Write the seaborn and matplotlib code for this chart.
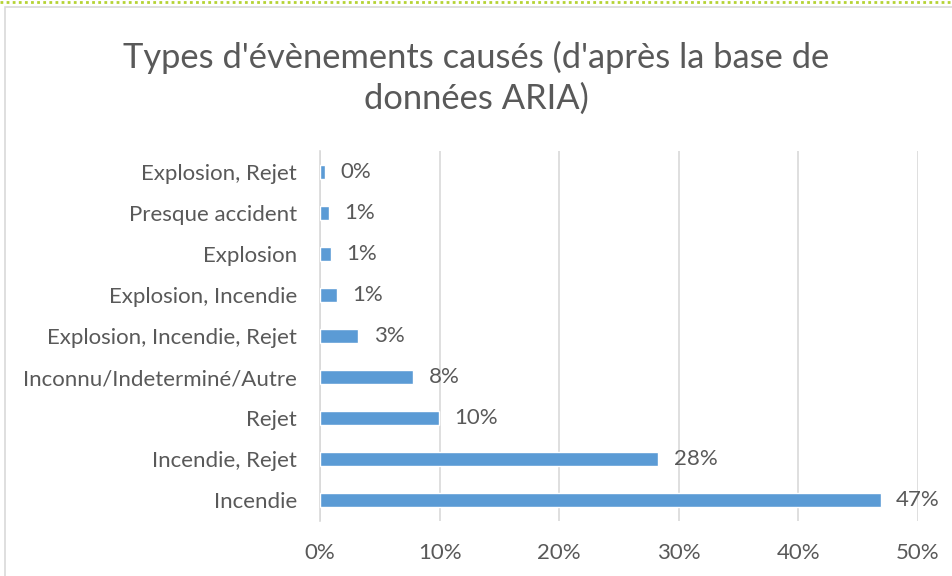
import matplotlib
matplotlib.use("Agg")
import matplotlib.pyplot as plt
import seaborn as sns
import pandas as pd
from matplotlib.patches import Rectangle
from matplotlib.lines import Line2D
from matplotlib.ticker import PercentFormatter

categories = [
    "Explosion, Rejet",
    "Presque accident",
    "Explosion",
    "Explosion, Incendie",
    "Explosion, Incendie, Rejet",
    "Inconnu/Indeterminé/Autre",
    "Rejet",
    "Incendie, Rejet",
    "Incendie",
]
shares = [0.004, 0.0075, 0.009, 0.014, 0.032, 0.078, 0.0995, 0.283, 0.469]
x_ticks = [0.0, 0.1, 0.2, 0.3, 0.4, 0.5]

title = "Types d'évènements causés (d'après la base de\ndonnées ARIA)"

bar_color = "#5B9BD5"
text_color = "#595959"
grid_color = "#D9D9D9"

sns.set_theme(style="white")
plt.rcParams["font.family"] = ["Lato", "DejaVu Sans"]

df = pd.DataFrame({"type": categories, "share": shares})

W, H = 953, 576
fig = plt.figure(figsize=(W / 100, H / 100), dpi=100)
fig.patch.set_facecolor("white")

# chart frame and the dotted separator above it
fig.patches.append(Rectangle((5 / W, -0.05), 1.2, 1 - 7 / H + 0.05,
                             transform=fig.transFigure, fill=False,
                             edgecolor=grid_color, linewidth=1.2))
fig.lines.append(Line2D([0, 1], [1 - 1.5 / H, 1 - 1.5 / H], transform=fig.transFigure,
                        color="#B5D334", linewidth=2, linestyle=(0, (1, 1.2))))

ax = fig.add_axes([320 / W, 1 - 521 / H, (918 - 320) / W, (521 - 151) / H])
sns.barplot(data=df, x="share", y="type", order=categories, color=bar_color,
            width=0.34, saturation=1, ax=ax, zorder=3)

ax.set_xlim(0, 0.5)
ax.set_xticks(x_ticks)
ax.xaxis.set_major_formatter(PercentFormatter(1.0, decimals=0))
ax.grid(axis="x", color=grid_color, linewidth=1.2, zorder=0)
ax.set_axisbelow(True)
for side in ["top", "right", "bottom"]:
    ax.spines[side].set_visible(False)
ax.spines["left"].set_color(grid_color)
ax.spines["left"].set_linewidth(1.2)
ax.set_xlabel("")
ax.set_ylabel("")
ax.tick_params(axis="both", length=0, labelsize=16, colors=text_color)
ax.tick_params(axis="y", pad=16.5)
ax.tick_params(axis="x", pad=16)

for i, v in enumerate(shares):
    ax.annotate(f"{v * 100:.0f}%", xy=(v, i), xytext=(11, 0), textcoords="offset points",
                va="center", ha="left", fontsize=16, color=text_color)

fig.text(0.5, 1 - 78 / H, title, ha="center", va="center", fontsize=24.8,
         color=text_color, linespacing=1.3)

fig.savefig("out.png", dpi=100, facecolor="white")
